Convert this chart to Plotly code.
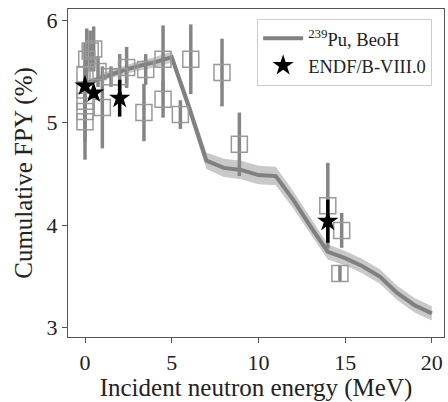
import plotly.graph_objects as go

# BeoH calculation (239Pu)
beoh_e = [0.0, 0.5, 1, 2, 3, 4, 5, 6, 7, 8, 9, 10, 11, 12, 13, 14, 15, 16, 17, 18, 19, 20]
beoh_y = [5.38, 5.41, 5.45, 5.50, 5.55, 5.59, 5.64, 5.15, 4.63, 4.56, 4.54, 4.49, 4.48,
          4.25, 3.99, 3.74, 3.68, 3.60, 3.50, 3.34, 3.22, 3.14]
beoh_err = [0.03, 0.03, 0.035, 0.04, 0.045, 0.05, 0.055, 0.07, 0.08, 0.09, 0.09, 0.09, 0.09,
            0.085, 0.08, 0.075, 0.07, 0.07, 0.07, 0.07, 0.07, 0.07]

# Experimental data
exp_e = [0.0, 0.0, 0.0, 0.0, 0.0, 0.1, 0.3, 0.5, 0.75, 1.0, 1.5, 2.0, 2.4, 3.5, 3.4,
         4.5, 4.5, 5.5, 6.1, 7.9, 8.9, 14.0, 14.8, 14.7]
exp_y = [5.47, 5.32, 5.21, 5.11, 5.01, 5.62, 5.70, 5.72, 5.50, 5.15, 5.45, 5.45, 5.54, 5.52, 5.10,
         5.62, 5.23, 5.08, 5.62, 5.49, 4.79, 4.19, 3.95, 3.53]
exp_err = [0.10, 0.12, 0.57, 0.15, 0.20, 0.30, 0.20, 0.22, 0.15, 0.40, 0.10, 0.22, 0.20, 0.15, 0.28,
           0.33, 0.18, 0.14, 0.34, 0.33, 0.31, 0.42, 0.17, 0.08]

# ENDF/B-VIII.0
endf_e = [0.0, 0.5, 2.0, 14.0]
endf_y = [5.36, 5.29, 5.24, 4.04]
endf_err = [0.03, 0.05, 0.18, 0.21]

FONT = "Liberation Serif"
upper = [y + e for y, e in zip(beoh_y, beoh_err)]
lower = [y - e for y, e in zip(beoh_y, beoh_err)]

fig = go.Figure()
fig.add_trace(go.Scatter(x=beoh_e, y=upper, mode="lines", line=dict(width=0),
                         showlegend=False, hoverinfo="skip"))
fig.add_trace(go.Scatter(x=beoh_e, y=lower, mode="lines", line=dict(width=0),
                         fill="tonexty", fillcolor="rgba(165,165,165,0.6)",
                         showlegend=False, hoverinfo="skip"))
fig.add_trace(go.Scatter(x=beoh_e, y=beoh_y, mode="lines",
                         line=dict(color="#808080", width=4),
                         name="<sup>239</sup>Pu, BeoH"))
fig.add_trace(go.Scatter(x=exp_e, y=exp_y, mode="markers",
                         marker=dict(symbol="square-open", size=16, color="#999999",
                                     line=dict(width=1.5, color="#999999")),
                         error_y=dict(type="data", array=exp_err, color="#858585",
                                      thickness=3.5, width=0),
                         showlegend=False))
fig.add_trace(go.Scatter(x=endf_e, y=endf_y, mode="markers",
                         marker=dict(symbol="star", size=16, color="black"),
                         error_y=dict(type="data", array=endf_err, color="black",
                                      thickness=3.5, width=0),
                         name="ENDF/B-VIII.0"))

axis_common = dict(showline=True, linecolor="#555555", linewidth=1.2, mirror=True,
                   ticks="outside", ticklen=5, tickcolor="#555555", showgrid=False,
                   zeroline=False, tickfont=dict(family=FONT, size=22, color="#222222"))

fig.update_layout(
    width=448, height=402,
    margin=dict(l=68, r=4, t=9, b=65),
    plot_bgcolor="white", paper_bgcolor="white",
    font=dict(family=FONT, color="#222222"),
    xaxis=dict(range=[-0.98, 20.7], tickvals=[0, 5, 10, 15, 20],
               title=dict(text="Incident neutron energy (MeV)", font=dict(family=FONT, size=25),
                          standoff=0),
               **axis_common),
    yaxis=dict(range=[2.91, 6.11], tickvals=[3, 4, 5, 6],
               title=dict(text="Cumulative FPY (%)", font=dict(family=FONT, size=25),
                          standoff=6),
               **axis_common),
    legend=dict(x=0.503, y=0.97, xanchor="left", yanchor="top", traceorder="normal",
                bgcolor="rgba(255,255,255,0.9)", bordercolor="#cccccc", borderwidth=1,
                font=dict(family=FONT, size=18.5, color="#222222"),
                tracegroupgap=0, itemwidth=40),
)

fig.write_html("out.html")
